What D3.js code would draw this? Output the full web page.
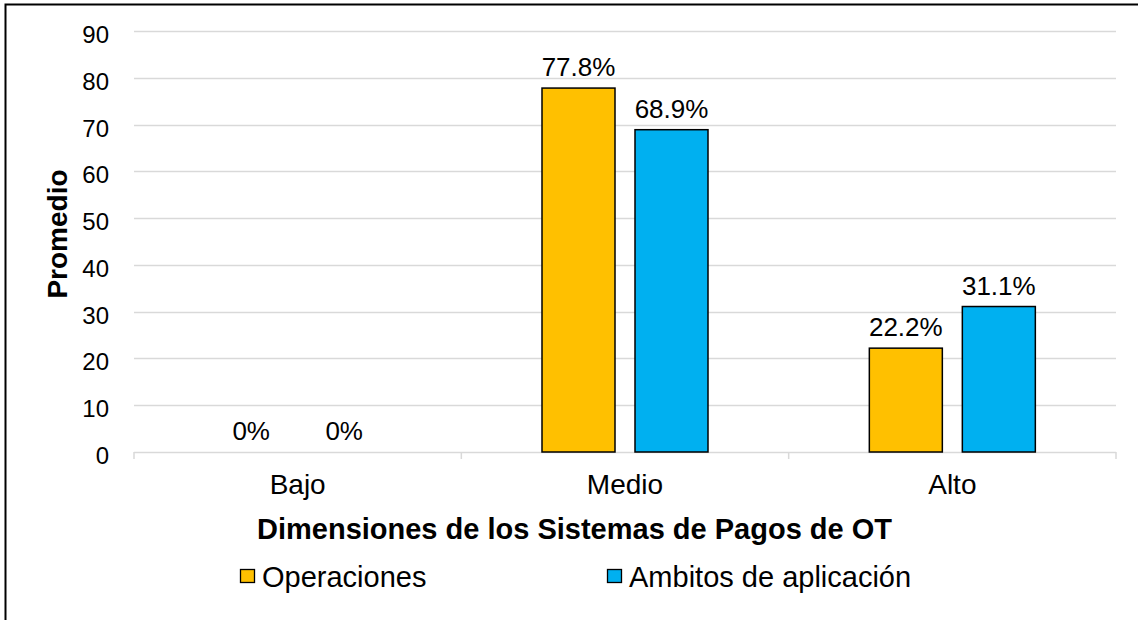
<!DOCTYPE html>
<html><head><meta charset="utf-8">
<script src="https://cdn.jsdelivr.net/npm/d3@7"></script>
<style>body{margin:0;background:#fff}svg{display:block;font-family:"Liberation Sans",Arial,sans-serif}</style>
</head><body><svg id="c" width="1138" height="620"></svg>
<script>
const categories = ["Bajo", "Medio", "Alto"];
const seriesNames = ["Operaciones", "Ambitos de aplicación"];
const operaciones = [0, 77.8, 22.2];
const ambitos = [0, 68.9, 31.1];
const labelsOperaciones = ["0%", "77.8%", "22.2%"];
const labelsAmbitos = ["0%", "68.9%", "31.1%"];
const yTicks = [0, 10, 20, 30, 40, 50, 60, 70, 80, 90];
const colors = ["#FFC000", "#00B0F0"];

const svg = d3.select("#c");
svg.append("rect").attr("x", 5.5).attr("y", 4.5).attr("width", 1300).attr("height", 800)
  .attr("fill", "#fff").attr("stroke", "#000").attr("stroke-width", 2);

const L = 134, R = 1116, T = 31, B = 452;
const x = d3.scaleBand().domain(categories).range([L, R]);
const y = d3.scaleLinear().domain([0, 90]).range([B, T]);
const bw = 73, gap = 20;
const groupW = bw * 2 + gap;
const xs = d3.scaleBand().domain([0, 1]).range([0, groupW]).paddingInner(gap / (bw + gap));

// gridlines
svg.append("g").selectAll("line").data(yTicks).join("line")
  .attr("x1", L).attr("x2", R).attr("y1", d => Math.round(y(d)) + 0.5).attr("y2", d => Math.round(y(d)) + 0.5)
  .attr("stroke", "#d9d9d9").attr("stroke-width", 1.5);

// y axis labels
const yAxis = d3.axisLeft(y).tickValues(yTicks).tickSize(0).tickPadding(0);
const gy = svg.append("g").attr("transform", `translate(109,0)`).call(yAxis);
gy.attr("font-size", null).attr("font-family", null);
gy.select(".domain").remove();
gy.selectAll("text").attr("font-size", 24).attr("fill", "#000").attr("dy", 11.5);

// x axis ticks
const boundaries = [L].concat(categories.map(c => x(c) + x.bandwidth()));
svg.append("g").selectAll("line").data(boundaries).join("line")
  .attr("x1", d => d).attr("x2", d => d).attr("y1", B).attr("y2", B + 7)
  .attr("stroke", "#d9d9d9").attr("stroke-width", 1.5);

const series = [operaciones, ambitos];
const labels = [labelsOperaciones, labelsAmbitos];
series.forEach((vals, si) => {
  const g = svg.append("g");
  const data = categories.map((c, i) => ({c, v: vals[i], l: labels[si][i]}));
  g.selectAll("rect").data(data.filter(d => d.v > 0)).join("rect")
    .attr("x", d => x(d.c) + (x.bandwidth() - groupW) / 2 + xs(si))
    .attr("y", d => y(d.v))
    .attr("width", xs.bandwidth())
    .attr("height", d => B - y(d.v))
    .attr("fill", colors[si]).attr("stroke", "#000").attr("stroke-width", 1.5);
  g.selectAll("text").data(data).join("text")
    .attr("x", d => x(d.c) + (x.bandwidth() - groupW) / 2 + xs(si) + xs.bandwidth() / 2)
    .attr("y", d => y(d.v) - 12)
    .attr("text-anchor", "middle").attr("font-size", 26).attr("fill", "#000")
    .text(d => d.l);
});

// x category labels
svg.append("g").selectAll("text").data(categories).join("text")
  .attr("x", d => x(d) + x.bandwidth() / 2).attr("y", 494)
  .attr("text-anchor", "middle").attr("font-size", 28).text(d => d);

// axis titles
svg.append("text").attr("x", 574.5).attr("y", 539).attr("text-anchor", "middle")
  .attr("font-size", 29).attr("font-weight", "bold").text("Dimensiones de los Sistemas de Pagos de OT");
svg.append("text").attr("transform", "translate(67,234) rotate(-90)").attr("text-anchor", "middle")
  .attr("font-size", 28).attr("font-weight", "bold").text("Promedio");

// legend
const legX = [240, 607];
seriesNames.forEach((n, i) => {
  svg.append("rect").attr("x", legX[i] + 0.5).attr("y", 569.5).attr("width", 14).attr("height", 13)
    .attr("fill", colors[i]).attr("stroke", "#000").attr("stroke-width", 1.3);
  svg.append("text").attr("x", legX[i] + 22).attr("y", 587).attr("font-size", 29).text(n);
});
</script></body></html>
